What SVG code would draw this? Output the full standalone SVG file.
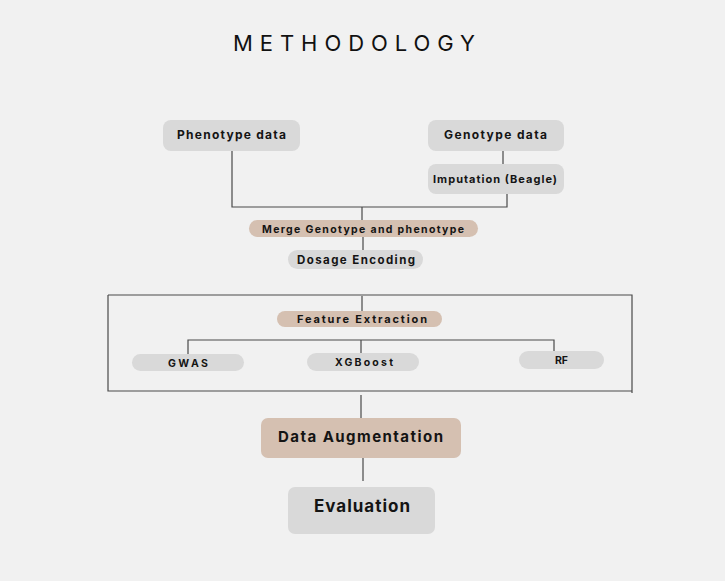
<svg xmlns="http://www.w3.org/2000/svg" width="725" height="581" viewBox="0 0 725 581">
<style>
.bg{fill:#f1f1f1}
.g{fill:#d9d9d9}
.t{fill:#d5c0b1}
.lbl{font-family:Inter,"Open Sans","Liberation Sans",sans-serif;font-weight:700;fill:#141414;text-anchor:middle}
.ln{stroke:#4a4a4a;stroke-width:1.2;fill:none}
.title{font-family:Inter,"Liberation Sans",sans-serif;font-weight:400;font-size:22px;fill:#111;text-anchor:middle}
</style>
<rect class="bg" x="0" y="0" width="725" height="581"/>
<text class="title" x="354" y="51" textLength="242" lengthAdjust="spacing">METHODOLOGY</text>
<g id="connectors">
<path class="ln" d="M232 151V207H507V194M503 151V164M362 207V220M363 237V250"/>
<path class="ln" d="M108 295H632V393M108 295V391H632"/>
<path class="ln" d="M362 296V311M188 354V340H554V351M361 340V353"/>
<path class="ln" d="M361 395V418M363 458V481"/>
</g>
<g id="phenotype"><rect class="g" x="163" y="120" width="137" height="31" rx="8"/><text class="lbl" x="231.5" y="139" font-size="12" textLength="109" lengthAdjust="spacing">Phenotype data</text></g>
<g id="genotype"><rect class="g" x="428" y="120" width="136" height="31" rx="8"/><text class="lbl" x="495.5" y="139" font-size="12" textLength="103" lengthAdjust="spacing">Genotype data</text></g>
<g id="imputation"><rect class="g" x="428" y="164" width="136" height="30" rx="8"/><text class="lbl" x="495" y="183" font-size="11" textLength="124" lengthAdjust="spacing">Imputation (Beagle)</text></g>
<g id="merge"><rect class="t" x="249" y="220" width="229" height="17" rx="8.5"/><text class="lbl" x="363" y="232.5" font-size="10.5" textLength="202" lengthAdjust="spacing">Merge Genotype and phenotype</text></g>
<g id="dosage"><rect class="g" x="288" y="250" width="135" height="19" rx="9.5"/><text class="lbl" x="356" y="263.5" font-size="11.5" textLength="118" lengthAdjust="spacing">Dosage Encoding</text></g>
<g id="feature"><rect class="t" x="277" y="311" width="165" height="16" rx="8"/><text class="lbl" x="362" y="323" font-size="11" textLength="130" lengthAdjust="spacing">Feature Extraction</text></g>
<g id="gwas"><rect class="g" x="132" y="354" width="112" height="17" rx="8.5"/><text class="lbl" x="188" y="366.5" font-size="10.5" textLength="40" lengthAdjust="spacing">GWAS</text></g>
<g id="xgboost"><rect class="g" x="307" y="353" width="112" height="18" rx="9"/><text class="lbl" x="364" y="366" font-size="10.5" textLength="58" lengthAdjust="spacing">XGBoost</text></g>
<g id="rf"><rect class="g" x="519" y="351" width="85" height="18" rx="9"/><text class="lbl" x="561.5" y="363.5" font-size="10.5" textLength="13" lengthAdjust="spacing">RF</text></g>
<g id="augmentation"><rect class="t" x="261" y="418" width="200" height="40" rx="7"/><text class="lbl" x="360.5" y="442" font-size="15" textLength="165" lengthAdjust="spacing">Data Augmentation</text></g>
<g id="evaluation"><rect class="g" x="288" y="487" width="147" height="47" rx="7"/><text class="lbl" x="362" y="512" font-size="17" textLength="96" lengthAdjust="spacing">Evaluation</text></g>
</svg>
